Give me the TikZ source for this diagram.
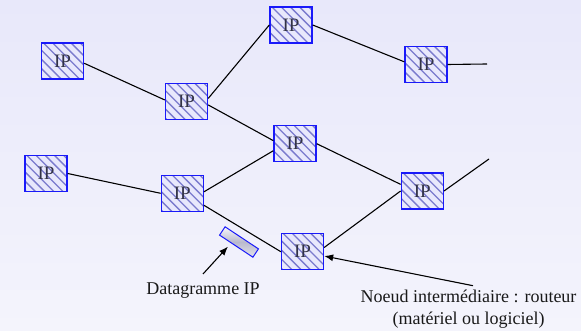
\documentclass[tikz,border=0pt]{standalone}
\usepackage{fontspec}
\setmainfont{Liberation Serif}
\usetikzlibrary{arrows.meta,calc}

\definecolor{bgtop}{RGB}{232,232,250}
\definecolor{bgbot}{RGB}{244,244,252}
\definecolor{boxfill}{RGB}{232,232,252}
\definecolor{hatch}{RGB}{122,122,205}
\definecolor{boxedge}{RGB}{25,25,250}
\definecolor{iptext}{RGB}{50,50,70}
\definecolor{dgmid}{RGB}{185,185,205}

\tikzset{
  ipbox/.style={
    draw=boxedge, line width=1.4pt,
    minimum width=42pt, minimum height=36pt, inner sep=0pt,
    fill=boxfill,
    path picture={
      \foreach \k in {-5,...,5}
        \draw[hatch, line width=1.3pt]
          ($(path picture bounding box.north west)+(\k*9.2pt+2pt,0)$) -- ++(46pt,-46pt);
    },
    text=iptext, font=\fontsize{19}{19}\selectfont
  },
  link/.style={draw=black, line width=1.1pt},
  pointer/.style={draw=black, line width=1.1pt, -{Latex[length=9pt,width=7pt]}},
  caption/.style={font=\fontsize{18}{18}\selectfont, text=black!90}
}

\begin{document}
\begin{tikzpicture}[x=1pt,y=1pt]
  % background
  \shade[top color=bgtop, bottom color=bgbot] (0,0) rectangle (581,331);
  \useasboundingbox (0,0) rectangle (581,331);

  % routers
  \node[ipbox] (A) at (62.5,270) {IP};
  \node[ipbox] (B) at (186.5,229.5) {IP};
  \node[ipbox] (C) at (291,306) {IP};
  \node[ipbox] (D) at (426,266.5) {IP};
  \node[ipbox] (E) at (295,187.3) {IP};
  \node[ipbox] (F) at (46,157.5) {IP};
  \node[ipbox] (G) at (182.3,137.7) {IP};
  \node[ipbox] (H) at (302.5,79.3) {IP};
  \node[ipbox] (I) at (422.3,140) {IP};

  % loose ends leaving the figure
  \coordinate (Dout) at (487,267);
  \coordinate (Iout) at (489,172);

  % links
  \draw[link] (A.-6) -- (B.176);
  \draw[link] (B.8) -- (C.west);
  \draw[link] (B.-9) -- (E.172);
  \draw[link] (C.east) -- (D.173);
  \draw[link] (D.east) -- (Dout);
  \draw[link] (E.east) -- (I.163);
  \draw[link] (F.east) -- (G.west);
  \draw[link] (G.4) -- (E.198);
  \draw[link] (G.-29) -- (H.west);
  \draw[link] (H.11) -- (I.west);
  \draw[link] (I.east) -- (Iout);

  % datagram travelling between G and H
  \node[draw=boxedge, line width=1pt, top color=white!90!dgmid, bottom color=white!60!dgmid,
        middle color=dgmid, minimum width=40pt, minimum height=10pt,
        inner sep=0pt, rotate=-33.5] (dg) at (239,89) {};

  % captions and pointers
  \node[caption, anchor=base] (dglabel) at (203,36) {Datagramme IP};
  \coordinate (dgtail) at (203,57);
  \draw[pointer] (dgtail) -- ([xshift=-8pt]dg.south);

  \node[caption, anchor=base] (rtlabel) at (468.5,28) {Noeud intermédiaire : routeur};
  \node[caption, anchor=base] (rtlabelb) at (468.5,6.3) {(matériel ou logiciel)};
  \coordinate (rttail) at (473,45.3);
  \draw[pointer] (rttail) -- (H);
\end{tikzpicture}
\end{document}
